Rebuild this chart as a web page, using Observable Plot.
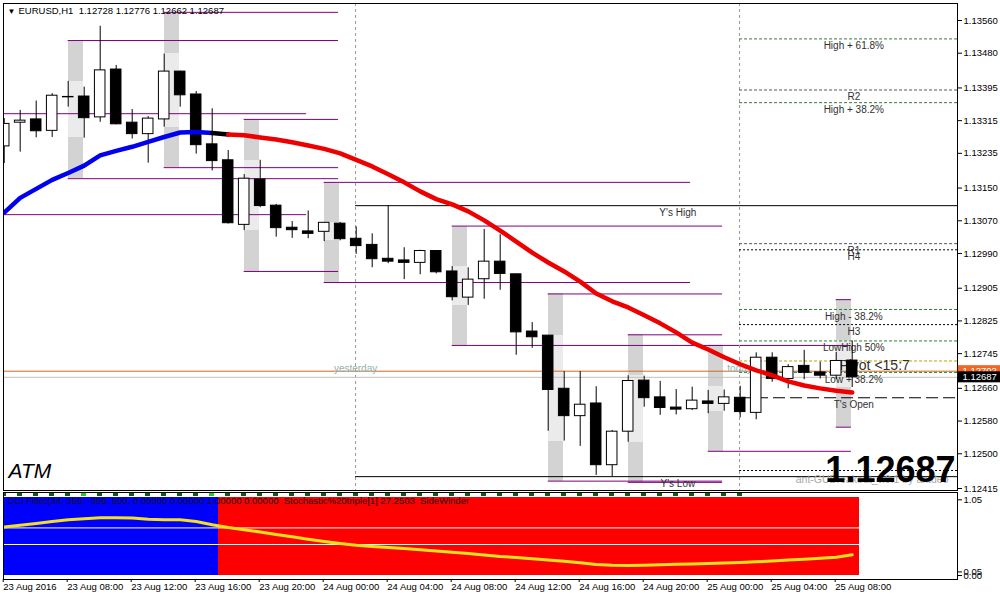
<!DOCTYPE html>
<html><head><meta charset="utf-8">
<script src="https://cdn.jsdelivr.net/npm/d3@7"></script>
<script src="https://cdn.jsdelivr.net/npm/@observablehq/plot@0.6"></script>
<style>
body{margin:0;background:#fff;}
#chart{position:relative;width:1000px;height:600px;overflow:hidden;background:#fff;}
#chart svg{position:absolute;left:0;}
</style></head><body><div id="chart"></div>
<script>
// ---------- DATA ----------
const symbol = "EURUSD,H1";
const tickBars = [0,4,8,12,16,20,24,28,32,36,40,44,48,52];
const tickLabels = ["23 Aug 2016","23 Aug 08:00","23 Aug 12:00","23 Aug 16:00","23 Aug 20:00","24 Aug 00:00","24 Aug 04:00","24 Aug 08:00","24 Aug 12:00","24 Aug 16:00","24 Aug 20:00","25 Aug 00:00","25 Aug 04:00","25 Aug 08:00"];
const priceTicks = [1.13560,1.13480,1.13395,1.13315,1.13235,1.13150,1.13070,1.12990,1.12905,1.12825,1.12745,1.12660,1.12580,1.12500,1.12415];

const open  = [1.13252,1.13310,1.13318,1.13290,1.13373,1.13374,1.13323,1.13440,1.13310,1.13282,1.13318,1.13435,1.13379,1.13257,1.13218,1.13060,1.13171,1.13107,1.13053,1.13044,1.13043,1.13063,1.13026,1.13011,1.12977,1.12973,1.12967,1.12996,1.12946,1.12882,1.12927,1.12970,1.12939,1.12799,1.12789,1.12659,1.12592,1.12623,1.12472,1.12554,1.12679,1.12638,1.12613,1.12609,1.12628,1.12622,1.12637,1.12600,1.12735,1.12683,1.12715,1.12699,1.12691,1.12728];
const high  = [1.13320,1.13340,1.13363,1.13381,1.13411,1.13397,1.13546,1.13450,1.13342,1.13325,1.13478,1.13436,1.13386,1.13344,1.13242,1.13183,1.13218,1.13110,1.13068,1.13094,1.13066,1.13066,1.13055,1.13038,1.13107,1.13004,1.12998,1.12997,1.12958,1.12955,1.13049,1.13036,1.12939,1.12821,1.12789,1.12701,1.12701,1.12664,1.12557,1.12691,1.12690,1.12677,1.12657,1.12663,1.12655,1.12656,1.12665,1.12747,1.12747,1.12718,1.12753,1.12724,1.12748,1.12776];
const low   = [1.13210,1.13238,1.13273,1.13274,1.13348,1.13272,1.13311,1.13305,1.13270,1.13211,1.13299,1.13348,1.13233,1.13192,1.13062,1.13046,1.13102,1.13030,1.13027,1.13026,1.13019,1.13021,1.12988,1.12955,1.12965,1.12926,1.12938,1.12940,1.12874,1.12863,1.12878,1.12900,1.12741,1.12758,1.12555,1.12531,1.12518,1.12447,1.12444,1.12528,1.12614,1.12594,1.12595,1.12606,1.12598,1.12604,1.12588,1.12583,1.12675,1.12659,1.12681,1.12683,1.12681,1.12662];
const close = [1.13307,1.13315,1.13289,1.13376,1.13372,1.13321,1.13438,1.13306,1.13282,1.13320,1.13435,1.13377,1.13255,1.13216,1.13064,1.13173,1.13106,1.13052,1.13047,1.13038,1.13065,1.13025,1.13008,1.12976,1.12970,1.12967,1.12996,1.12944,1.12883,1.12926,1.12970,1.12940,1.12797,1.12785,1.12656,1.12592,1.12620,1.12472,1.12554,1.12678,1.12636,1.12612,1.12608,1.12630,1.12622,1.12638,1.12602,1.12735,1.12683,1.12712,1.12698,1.12691,1.12727,1.12687];

const ma = [1.13090,1.13126,1.13148,1.13170,1.13187,1.13205,1.13230,1.13241,1.13251,1.13263,1.13275,1.13286,1.13287,1.13285,1.13281,1.13279,1.13274,1.13269,1.13262,1.13254,1.13246,1.13235,1.13219,1.13203,1.13184,1.13164,1.13142,1.13123,1.13110,1.13093,1.13071,1.13046,1.13019,1.12992,1.12968,1.12946,1.12921,1.12892,1.12873,1.12858,1.12839,1.12819,1.12797,1.12772,1.12755,1.12736,1.12719,1.12704,1.12692,1.12677,1.12667,1.12660,1.12654,1.12650];
const maTrend = ["up","up","up","up","up","up","up","up","up","up","up","up","up","up","down","down","down","down","down","down","down","down","down","down","down","down","down","down","down","down","down","down","down","down","down","down","down","down","down","down","down","down","down","down","down","down","down","down","down","down","down","down","down","down"];

// breakout boxes
const boxBar         = [4,10,15,20,28,34,39,44,52];
const boxTop         = [1.13511,1.13580,1.13318,1.13164,1.13057,1.12891,1.12791,1.12765,1.12877];
const boxInnerTop    = [1.13411,1.13479,1.13218,1.13066,1.12958,1.12789,1.12691,1.12664,1.12776];
const boxInnerBottom = [1.13274,1.13298,1.13046,1.13022,1.12863,1.12531,1.12528,1.12604,1.12662];
const boxBottom      = [1.13173,1.13200,1.12946,1.12919,1.12765,1.12433,1.12430,1.12506,1.12565];
const boxLineEnd     = [20.9,20.9,20.9,42.9,44.9,44.9,44.9,52.95,52.95];
const prevBoxLines   = [1.13332,1.13085];
const prevBoxLineEnd = 18.9;

// day levels
const sepBars = [22,46];
const sepLabels = ["yesterday","today"];
const yHigh = 1.13107, yLow = 1.12444;
const levelNames  = ["High + 61.8%","R2","High + 38.2%","R1","H4","High - 38.2%","H3","LowHigh 50%","Pivot <15:7","Low + 38.2%","T's Open",""];
const levelPrices = [1.13515,1.13390,1.13359,1.13014,1.12999,1.12853,1.12816,1.12776,1.12727,1.12699,1.12637,1.12459];
const levelKinds  = ["fib","pivot","fib","pivot","cam","fib","cam","fib","pp","fib","open","cam"];
const refLevel = 1.12702;
const bid = 1.12687;

// sub window indicator
const subState = [1,1,1,1,1,1,1,1,1,1,1,1,1,1,-1,-1,-1,-1,-1,-1,-1,-1,-1,-1,-1,-1,-1,-1,-1,-1,-1,-1,-1,-1,-1,-1,-1,-1,-1,-1,-1,-1,-1,-1,-1,-1,-1,-1,-1,-1,-1,-1,-1,-1];
const stoch = [0.673,0.696,0.721,0.749,0.773,0.788,0.800,0.802,0.798,0.779,0.774,0.773,0.749,0.703,0.666,0.635,0.603,0.569,0.537,0.503,0.472,0.444,0.419,0.402,0.388,0.374,0.356,0.340,0.322,0.305,0.284,0.264,0.250,0.232,0.215,0.197,0.176,0.153,0.143,0.139,0.143,0.150,0.155,0.160,0.166,0.172,0.180,0.190,0.201,0.214,0.225,0.240,0.254,0.287];
const sig = [1,1,1,1,1,2,1,1,1,1,1,1,1,2,1,1,1,1,1,1,1,1,1,1,1,1,1,1,1,1,1,1,1,1,1,1,1,1,1,1,1,1,1,1,1,1,1];
const subLevels = [0.66,0.43];
const subTicks = [1.05,0.05,0.00];
const subFillTop = 1.086, sigLow = 1.0915, sigHigh = 1.147;
const subTitle = "CCI Filter(34, 356, -356, 500, 0.00000 0.00000 1.00000 0.00000  Stochastic%20triple[1] 27.2503  SideWinder";

// ---------- BUILD ----------
const FONT = "'Liberation Sans', Arial, sans-serif";
const xDomain = [-0.04375, 59.58125];
const fmt5 = d => d.toFixed(5);
const candles = open.map((o,i)=>({i, open:o, high:high[i], low:low[i], close:close[i]}));
const boxes = boxBar.map((b,j)=>({bar:b, top:boxTop[j], it:boxInnerTop[j], ib:boxInnerBottom[j], bottom:boxBottom[j], end:boxLineEnd[j]}));
const boxLines = boxes.flatMap(b=>[{p:b.top, from:b.bar, to:b.end},{p:b.bottom, from:b.bar, to:b.end}])
  .concat(prevBoxLines.map(p=>({p, from:-2, to:prevBoxLineEnd})));
const levels = levelNames.map((n,j)=>({name:n, price:levelPrices[j], kind:levelKinds[j]}));
const levelStyle = {
  fib:{stroke:"#2f7d32", dash:"3,2"},
  pivot:{stroke:"#4a5a66", dash:"3,2"},
  cam:{stroke:"#000000", dash:"2,2"},
  pp:{stroke:"#b8a400", dash:"3,2"},
  open:{stroke:"#000000", dash:"12,5"}
};
const maPts = [];
let run = 0;
ma.forEach((v,i)=>{
  if (i>0 && maTrend[i]!==maTrend[i-1]) {
    run++;
    maPts.push({seg:"x"+run, kind:"switch", i:i-1, v:ma[i-1]}, {seg:"x"+run, kind:"switch", i, v});
  }
  maPts.push({seg:"r"+run, kind:maTrend[i], i, v});
});
const maColor = {up:"#0000ee", down:"#ee0000", switch:"#000000"};
const lastBar = candles.length - 1;
const labelX = lastBar + 0.1;

const levelMarks = Object.keys(levelStyle).map(k =>
  Plot.ruleY(levels.filter(d=>d.kind===k), {y:"price", x1:()=>sepBars[1]-0.04, x2:()=>xDomain[1], stroke:levelStyle[k].stroke, strokeDasharray:levelStyle[k].dash})
);

const main = Plot.plot({
  width:1000, height:492, marginTop:3, marginRight:43, marginBottom:2, marginLeft:3,
  x:{domain:xDomain, axis:null},
  y:{domain:[1.124101,1.136016], axis:null},
  color:{type:"identity"},
  style:{fontFamily:FONT, fontSize:"9.5px", background:"transparent", color:"black"},
  marks:[
    Plot.rect(boxes, {x1:"bar", x2:d=>d.bar+0.95, y1:"bottom", y2:"top", fill:"#d3d3d3", clip:true, shapeRendering:"crispEdges"}),
    Plot.rect(boxes, {x1:"bar", x2:d=>d.bar+0.95, y1:"ib", y2:"it", fill:"#ebebeb", clip:true, shapeRendering:"crispEdges"}),
    Plot.ruleY(boxLines, {y:"p", x1:"from", x2:"to", stroke:"#800080", clip:true}),
    Plot.ruleX(sepBars, {x:d=>d-0.04, stroke:"#9a9a9a", strokeDasharray:"3,3"}),
    Plot.ruleY([refLevel], {stroke:"#d2691e"}),
    Plot.ruleY([bid], {stroke:"#c0c0c0"}),
    Plot.ruleY([yHigh, yLow], {x1:()=>sepBars[0]-0.04, x2:()=>xDomain[1], stroke:"black"}),
    ...levelMarks,
    Plot.text(levels.filter(d=>d.name && d.kind!=="pp"), {x:()=>labelX, y:"price", text:"name", dy:7, fill:"#303030", fontSize:10}),
    Plot.text(levels.filter(d=>d.kind==="pp"), {x:()=>labelX+1.3, y:"price", text:"name", dy:4.5, fill:"#303030", fontSize:14}),
    Plot.text([{t:"Y's High", p:yHigh},{t:"Y's Low", p:yLow}], {x:()=>42.1, y:"p", text:"t", dy:7.5, fill:"#303030", fontSize:10}),
    Plot.text(sepBars, {x:d=>d-0.04, y:()=>refLevel, text:(d,i)=>sepLabels[i], dy:-2.5, fill:"#8fb3b3", fontSize:10}),
    Plot.text(["ant-GUBreakout_v.0.1 by antdeo"], {frameAnchor:"bottom-right", dx:-9, dy:-8, fill:"#a8a8a8", fontSize:10.5}),
    Plot.ruleX(candles, {x:"i", y1:"low", y2:"high", stroke:"black", clip:true}),
    Plot.rect(candles, {x1:d=>d.i-0.33, x2:d=>d.i+0.33, y1:d=>Math.min(d.open,d.close), y2:d=>Math.max(d.open,d.close),
      fill:d=>d.close>=d.open?"white":"black", stroke:"black", strokeWidth:1, clip:true}),
    Plot.line(maPts, {x:"i", y:"v", z:"seg", stroke:d=>maColor[d.kind], strokeWidth:4.5, strokeLinecap:"round", clip:true}),
    Plot.text(["ATM"], {frameAnchor:"bottom-left", dx:5, dy:-13, fontSize:21, fontStyle:"italic", fill:"black"}),
    Plot.text([fmt5(bid)], {frameAnchor:"bottom-right", dx:-2, dy:-9, fontSize:36, fontWeight:"bold", fill:"black", letterSpacing:"-1.5px"}),
    Plot.text(["▼"], {frameAnchor:"top-left", dx:4, dy:5, fontSize:8, fill:"black"}),
    Plot.text([`${symbol}  ${fmt5(open[lastBar])} ${fmt5(high[lastBar])} ${fmt5(low[lastBar])} ${fmt5(close[lastBar])}`], {frameAnchor:"top-left", dx:15, dy:4, fontSize:9.5, fill:"black"}),
    Plot.frame({stroke:"black"}),
    Plot.axisY({anchor:"right", ticks:priceTicks, tickFormat:fmt5, tickSize:4, tickPadding:2, fontSize:9.5, label:null}),
    Plot.rect([refLevel], {x1:()=>xDomain[1]+0.05, x2:()=>xDomain[1]+2.8, y1:d=>d, y2:d=>d, insetTop:-5.5, insetBottom:-5.5, fill:"#f26522"}),
    Plot.text([refLevel], {x:()=>xDomain[1], y:d=>d, text:fmt5, dx:5, textAnchor:"start", fill:"white", fontSize:9.5}),
    Plot.rect([bid], {x1:()=>xDomain[1]+0.05, x2:()=>xDomain[1]+2.8, y1:d=>d, y2:d=>d, insetTop:-5.5, insetBottom:-5.5, fill:"black"}),
    Plot.text([bid], {x:()=>xDomain[1], y:d=>d, text:fmt5, dx:5, textAnchor:"start", fill:"white", fontSize:9.5})
  ]
});
main.style.top = "0px";

const subData = stoch.map((v,i)=>({i, v, s:subState[i]}));
const sigData = sig.map((v,i)=>({i, v}));
const labelMap = new Map(tickBars.map((b,j)=>[b, tickLabels[j]]));
const sub = Plot.plot({
  width:1000, height:110, marginTop:2, marginRight:43, marginBottom:21, marginLeft:3,
  x:{domain:xDomain, axis:null},
  y:{domain:[-0.0555,1.1512], axis:null},
  color:{type:"identity"},
  style:{fontFamily:FONT, fontSize:"9.5px", background:"transparent", color:"black"},
  marks:[
    Plot.rect(subData, {x1:d=>d.i-0.6, x2:d=>d.i+0.45, y1:()=>0, y2:()=>subFillTop, fill:d=>d.s>0?"#0000ff":"#ff0000", clip:true, shapeRendering:"crispEdges"}),
    Plot.rect(sigData, {x1:d=>d.i-0.16, x2:d=>d.i+0.16, y1:()=>sigLow, y2:()=>sigHigh, fill:d=>d.v===2?"#22cc22":"#0b5e0b", clip:true, shapeRendering:"crispEdges"}),
    Plot.ruleY(subLevels, {stroke:"white"}),
    Plot.line(subData, {x:"i", y:"v", stroke:"#f2e21a", strokeWidth:3}),
    Plot.text([subTitle], {frameAnchor:"top-left", dx:4, dy:5, fill:"#141414", fontSize:9.5}),
    Plot.frame({stroke:"black"}),
    Plot.axisY({anchor:"right", ticks:subTicks, tickFormat:d=>d.toFixed(2), tickSize:4, tickPadding:2, fontSize:9.5, label:null}),
    Plot.axisX({anchor:"bottom", ticks:tickBars, tickFormat:d=>labelMap.get(d), tickSize:3, tickPadding:1, textAnchor:"start", dx:-1, fontSize:9.5, label:null})
  ]
});
sub.style.top = "490px";
const root = document.getElementById("chart");
root.append(main, sub);
</script></body></html>
